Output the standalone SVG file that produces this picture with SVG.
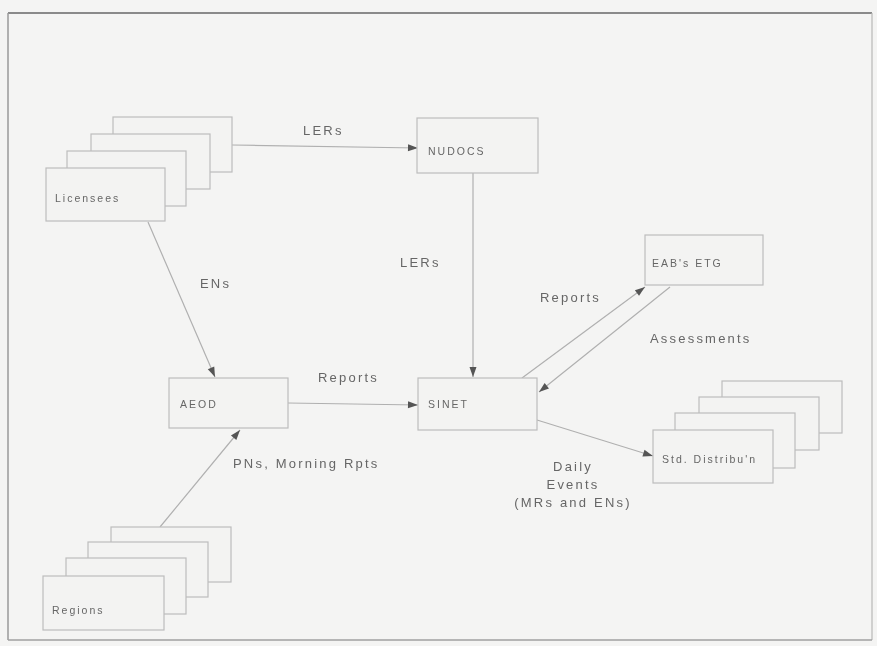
<svg xmlns="http://www.w3.org/2000/svg" width="877" height="646" viewBox="0 0 877 646">
<defs>
<marker id="ah" viewBox="0 0 10 10" refX="10" refY="5" markerWidth="20" markerHeight="10" markerUnits="userSpaceOnUse" orient="auto">
<path d="M0,1.5 L10,5 L0,8.5 z" fill="#555"/>
</marker>
<filter id="blur" x="-5%" y="-5%" width="110%" height="110%"><feGaussianBlur stdDeviation="0.7"/></filter>
</defs>
<style>
.box{fill:#f3f3f2;stroke:#bdbdbd;stroke-width:1.2}
.bt{font-family:"Liberation Sans",Arial,sans-serif;font-size:10.5px;letter-spacing:2px;fill:#666}
.lb{font-family:"Liberation Sans",Arial,sans-serif;font-size:13px;letter-spacing:2.2px;fill:#666}
.ln{stroke:#b0b0b0;stroke-width:1.2;fill:none;marker-end:url(#ah)}
</style>
<rect x="0" y="0" width="877" height="646" fill="#f4f4f3"/>
<g id="frame" fill="none">
<line x1="8" y1="13" x2="872" y2="13" stroke="#8a8a8a" stroke-width="2"/>
<line x1="8" y1="13" x2="8" y2="640" stroke="#9a9a9a" stroke-width="1.5"/>
<line x1="872" y1="13" x2="872" y2="640" stroke="#b8b8b8" stroke-width="1.2"/>
<line x1="8" y1="640" x2="872" y2="640" stroke="#a0a0a0" stroke-width="1.5"/>
</g>
<g filter="url(#blur)">
<g id="connectors">
<line class="ln" x1="232" y1="145" x2="418" y2="148"/>
<line class="ln" x1="473" y1="173" x2="473" y2="377"/>
<line class="ln" x1="148" y1="222" x2="215" y2="377"/>
<line class="ln" x1="288" y1="403" x2="418" y2="405"/>
<line class="ln" x1="160" y1="527" x2="240" y2="430"/>
<line class="ln" x1="522" y1="378" x2="645" y2="287"/>
<line class="ln" x1="670" y1="287" x2="539" y2="392"/>
<line class="ln" x1="537" y1="420" x2="653" y2="456"/>
</g>
<g id="licensees">
<rect class="box" x="113" y="117" width="119" height="55"/>
<rect class="box" x="91" y="134" width="119" height="55"/>
<rect class="box" x="67" y="151" width="119" height="55"/>
<rect class="box" x="46" y="168" width="119" height="53"/>
<text class="bt" x="55" y="202">Licensees</text>
</g>
<g id="nudocs">
<rect class="box" x="417" y="118" width="121" height="55"/>
<text class="bt" x="428" y="155">NUDOCS</text>
</g>
<g id="eab">
<rect class="box" x="645" y="235" width="118" height="50"/>
<text class="bt" x="652" y="267">EAB's ETG</text>
</g>
<g id="aeod">
<rect class="box" x="169" y="378" width="119" height="50"/>
<text class="bt" x="180" y="408">AEOD</text>
</g>
<g id="sinet">
<rect class="box" x="418" y="378" width="119" height="52"/>
<text class="bt" x="428" y="408">SINET</text>
</g>
<g id="std">
<rect class="box" x="722" y="381" width="120" height="52"/>
<rect class="box" x="699" y="397" width="120" height="53"/>
<rect class="box" x="675" y="413" width="120" height="55"/>
<rect class="box" x="653" y="430" width="120" height="53"/>
<text class="bt" x="662" y="463">Std. Distribu'n</text>
</g>
<g id="regions">
<rect class="box" x="111" y="527" width="120" height="55"/>
<rect class="box" x="88" y="542" width="120" height="55"/>
<rect class="box" x="66" y="558" width="120" height="56"/>
<rect class="box" x="43" y="576" width="121" height="54"/>
<text class="bt" x="52" y="614">Regions</text>
</g>
<g id="labels">
<text class="lb" x="303" y="135">LERs</text>
<text class="lb" x="400" y="267">LERs</text>
<text class="lb" x="200" y="288">ENs</text>
<text class="lb" x="540" y="302">Reports</text>
<text class="lb" x="650" y="343">Assessments</text>
<text class="lb" x="318" y="382">Reports</text>
<text class="lb" x="233" y="468" letter-spacing="1.6">PNs, Morning Rpts</text>
<text class="lb" x="573" y="471" text-anchor="middle">Daily</text>
<text class="lb" x="573" y="489" text-anchor="middle">Events</text>
<text class="lb" x="573" y="507" text-anchor="middle">(MRs and ENs)</text>
</g>
</g>
</svg>
